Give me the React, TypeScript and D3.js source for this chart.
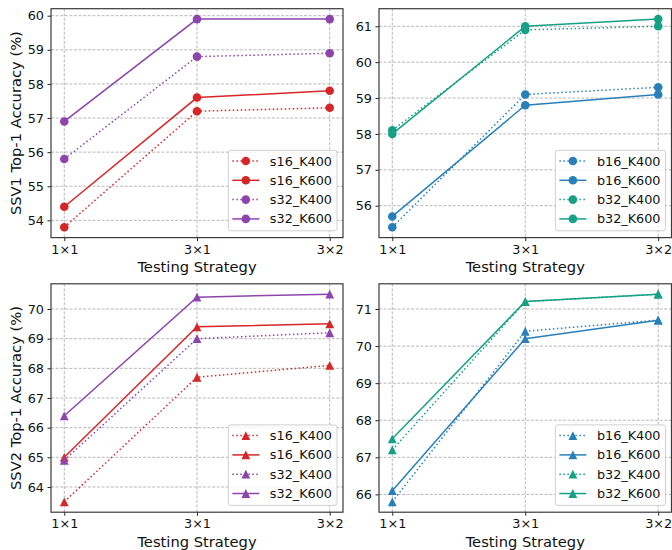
import { useRef, useEffect } from "react";
import * as d3 from "d3";

// x categories
const strategies = ["1×1", "3×1", "3×2"];

// series names
const smallNames = ["s16_K400", "s16_K600", "s32_K400", "s32_K600"];
const baseNames = ["b16_K400", "b16_K600", "b32_K400", "b32_K600"];

// SSV1 values
const ssv1Small = [
  [53.8, 57.2, 57.3],
  [54.4, 57.6, 57.8],
  [55.8, 58.8, 58.9],
  [56.9, 59.9, 59.9],
];
const ssv1Base = [
  [55.4, 59.1, 59.3],
  [55.7, 58.8, 59.1],
  [58.1, 60.9, 61.0],
  [58.0, 61.0, 61.2],
];

// SSV2 values
const ssv2Small = [
  [63.5, 67.7, 68.1],
  [65.0, 69.4, 69.5],
  [64.9, 69.0, 69.2],
  [66.4, 70.4, 70.5],
];
const ssv2Base = [
  [65.8, 70.4, 70.7],
  [66.1, 70.2, 70.7],
  [67.2, 71.2, 71.4],
  [67.5, 71.2, 71.4],
];

// y tick labels
const ssv1SmallTicks = [54, 55, 56, 57, 58, 59, 60];
const ssv1BaseTicks = [56, 57, 58, 59, 60, 61];
const ssv2SmallTicks = [64, 65, 66, 67, 68, 69, 70];
const ssv2BaseTicks = [66, 67, 68, 69, 70, 71];

const RED = "#d62728";
const PURPLE = "#8e44ad";
const BLUE = "#2980b9";
const TEAL = "#16a085";
const FONT = "DejaVu Sans, sans-serif";
const INK = "#111";

const W = 672;
const H = 550;

export default function App() {
  const svgRef = useRef<SVGSVGElement | null>(null);

  useEffect(() => {
    const svg = d3.select(svgRef.current);
    svg.selectAll("*").remove();

    const panels = [
      { x0: 51, x1: 343, y0: 8.7, y1: 237.6, names: smallNames, values: ssv1Small, ticks: ssv1SmallTicks, colors: [RED, RED, PURPLE, PURPLE], marker: "o", ylabel: "SSV1 Top-1 Accuracy (%)" },
      { x0: 379, x1: 671.5, y0: 8.7, y1: 237.6, names: baseNames, values: ssv1Base, ticks: ssv1BaseTicks, colors: [BLUE, BLUE, TEAL, TEAL], marker: "o", ylabel: null },
      { x0: 51, x1: 343, y0: 283.8, y1: 512.2, names: smallNames, values: ssv2Small, ticks: ssv2SmallTicks, colors: [RED, RED, PURPLE, PURPLE], marker: "^", ylabel: "SSV2 Top-1 Accuracy (%)" },
      { x0: 379, x1: 671.5, y0: 283.8, y1: 512.2, names: baseNames, values: ssv2Base, ticks: ssv2BaseTicks, colors: [BLUE, BLUE, TEAL, TEAL], marker: "^", ylabel: null },
    ];

    const drawMarker = (g: any, kind: string, x: number, y: number, color: string) => {
      if (kind === "o") {
        g.append("circle").attr("cx", x).attr("cy", y).attr("r", 4.3).attr("fill", color);
      } else {
        const s = 8.8;
        g.append("path")
          .attr("d", `M${x},${y - s / 2}L${x + s / 2},${y + s / 2}L${x - s / 2},${y + s / 2}Z`)
          .attr("fill", color);
      }
    };

    panels.forEach((p) => {
      const all = p.values.flat();
      const lo = d3.min(all) as number;
      const hi = d3.max(all) as number;
      const pad = (hi - lo) * 0.05;

      const x = d3.scalePoint<string>().domain(strategies).range([p.x0, p.x1]).padding(0.1);
      const y = d3.scaleLinear().domain([lo - pad, hi + pad]).range([p.y1, p.y0]);

      const g = svg.append("g");

      // grid
      g.selectAll(".gy")
        .data(p.ticks)
        .enter()
        .append("line")
        .attr("x1", p.x0)
        .attr("x2", p.x1)
        .attr("y1", (d) => y(d))
        .attr("y2", (d) => y(d))
        .attr("stroke", "#b0b0b0")
        .attr("stroke-width", 0.9)
        .attr("stroke-dasharray", "3,1.6");
      g.selectAll(".gx")
        .data(strategies)
        .enter()
        .append("line")
        .attr("x1", (d) => x(d)!)
        .attr("x2", (d) => x(d)!)
        .attr("y1", p.y0)
        .attr("y2", p.y1)
        .attr("stroke", "#b0b0b0")
        .attr("stroke-width", 0.9)
        .attr("stroke-dasharray", "3,1.6");

      // axes
      const ax = g
        .append("g")
        .attr("transform", `translate(0,${p.y1})`)
        .call(d3.axisBottom(x).tickSize(3.5).tickPadding(3.5));
      const ay = g
        .append("g")
        .attr("transform", `translate(${p.x0},0)`)
        .call(d3.axisLeft(y).tickValues(p.ticks).tickSize(3.5).tickPadding(3.5).tickFormat(d3.format("d")));
      [ax, ay].forEach((a) => {
        a.select(".domain").remove();
        a.selectAll("line").attr("stroke", "#222");
        a.selectAll("text").attr("font-family", FONT).attr("font-size", 12.8).attr("fill", INK);
      });

      // lines and markers
      const line = d3
        .line<number>()
        .x((_, i) => x(strategies[i])!)
        .y((d) => y(d));
      p.values.forEach((vals, si) => {
        g.append("path")
          .datum(vals)
          .attr("d", line)
          .attr("fill", "none")
          .attr("stroke", p.colors[si])
          .attr("stroke-width", 1.5)
          .attr("stroke-dasharray", si % 2 === 0 ? "1.5,2.5" : null);
        vals.forEach((v, i) => drawMarker(g, p.marker, x(strategies[i])!, y(v), p.colors[si]));
      });

      // spines
      g.append("rect")
        .attr("x", p.x0)
        .attr("y", p.y0)
        .attr("width", p.x1 - p.x0)
        .attr("height", p.y1 - p.y0)
        .attr("fill", "none")
        .attr("stroke", "#3a3a3a")
        .attr("stroke-width", 1.2);

      // axis labels
      g.append("text")
        .attr("x", (p.x0 + p.x1) / 2)
        .attr("y", p.y1 + 34.5)
        .attr("text-anchor", "middle")
        .attr("font-family", FONT)
        .attr("font-size", 14.7)
        .attr("fill", INK)
        .text("Testing Strategy");
      if (p.ylabel) {
        g.append("text")
          .attr("transform", `translate(21,${(p.y0 + p.y1) / 2}) rotate(-90)`)
          .attr("text-anchor", "middle")
          .attr("font-family", FONT)
          .attr("font-size", 14.7)
          .attr("fill", INK)
          .text(p.ylabel);
      }

      // legend
      const lg = g.append("g");
      const box = lg.append("rect");
      const texts = p.names.map((n, i) =>
        lg
          .append("text")
          .attr("y", 10.7 + i * 19.3 + 4.6)
          .attr("font-family", FONT)
          .attr("font-size", 12.8)
          .attr("fill", INK)
          .text(n)
      );
      const tw = d3.max(texts, (t) => (t.node() as SVGTextElement).getComputedTextLength()) as number;
      const lw = 41.5 + tw + 5;
      const lh = 80.5;
      const lx = p.x1 - 6 - lw;
      const ly = p.y1 - 6.8 - lh;
      lg.attr("transform", `translate(${lx},${ly})`);
      box
        .attr("width", lw)
        .attr("height", lh)
        .attr("rx", 2.5)
        .attr("fill", "white")
        .attr("fill-opacity", 0.8)
        .attr("stroke", "#d0d0d0")
        .attr("stroke-width", 1);
      texts.forEach((t) => t.attr("x", 41.5));
      p.names.forEach((_, i) => {
        const ry = 10.7 + i * 19.3;
        lg.append("line")
          .attr("x1", 4)
          .attr("x2", 31)
          .attr("y1", ry)
          .attr("y2", ry)
          .attr("stroke", p.colors[i])
          .attr("stroke-width", 1.5)
          .attr("stroke-dasharray", i % 2 === 0 ? "1.5,2.5" : null);
        drawMarker(lg, p.marker, 17.5, ry, p.colors[i]);
      });
    });
  }, []);

  return (
    <svg
      ref={svgRef}
      width={W}
      height={H}
      style={{ position: "absolute", left: 0, top: 0, background: "white" }}
    />
  );
}
